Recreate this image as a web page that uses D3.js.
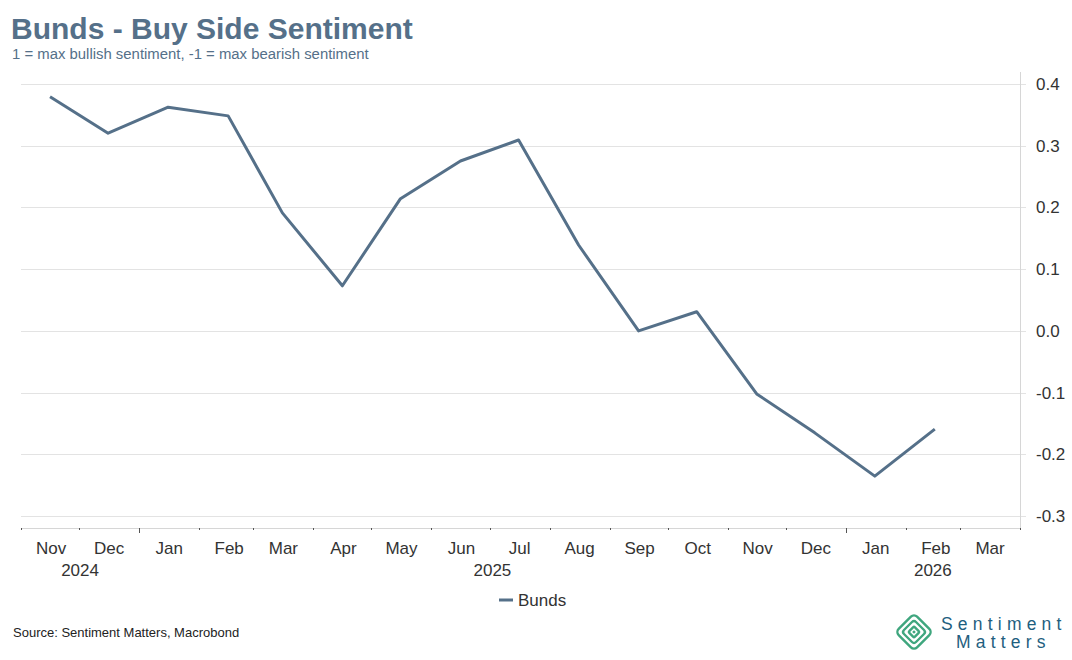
<!DOCTYPE html>
<html lang="en">
<head>
<meta charset="UTF-8">
<title>Bunds - Buy Side Sentiment</title>
<script src="https://d3js.org/d3.v7.min.js"></script>
<style>
  body { margin: 0; background: #fff; font-family: Arial, "Liberation Sans", sans-serif; }
  svg text { font-family: Arial, "Liberation Sans", sans-serif; }
</style>
</head>
<body>
<svg id="chart" width="1072" height="660"></svg>
<script>
// data (mid-month readings)
const months = ["2024-11", "2024-12", "2025-01", "2025-02", "2025-03", "2025-04", "2025-05", "2025-06",
                "2025-07", "2025-08", "2025-09", "2025-10", "2025-11", "2025-12", "2026-01", "2026-02"];
const bunds = [0.379, 0.320, 0.362, 0.348, 0.191, 0.073, 0.214, 0.275,
               0.309, 0.139, 0.000, 0.031, -0.102, -0.165, -0.235, -0.159];
const yTicks = [0.4, 0.3, 0.2, 0.1, 0.0, -0.1, -0.2, -0.3];
const yearLabels = ["2024", "2025", "2026"];

const parse = d3.timeParse("%Y-%m");
const series = months.map((m, i) => {
  const d = parse(m);
  return { date: new Date(d.getFullYear(), d.getMonth(), 16), value: bunds[i] };
});

const svg = d3.select("#chart");
const plotLeft = 21, plotRight = 1020, plotTop = 72, plotBottom = 528;
const lineColor = "#557089";
const textColor = "#333";

const x = d3.scaleTime()
  .domain([new Date(2024, 10, 1), new Date(2026, 3, 1)])
  .range([plotLeft, plotRight]);
const y = d3.scaleLinear()
  .domain([-0.319, 0.419])
  .range([plotBottom, plotTop]);

// title
svg.append("text").attr("x", 11).attr("y", 39)
  .attr("font-size", 30).attr("font-weight", "bold").attr("fill", lineColor)
  .text("Bunds - Buy Side Sentiment");
svg.append("text").attr("x", 12).attr("y", 59)
  .attr("font-size", 14.9).attr("fill", lineColor)
  .text("1 = max bullish sentiment, -1 = max bearish sentiment");

// gridlines
svg.append("g").selectAll("line").data(yTicks).join("line")
  .attr("x1", plotLeft).attr("x2", plotRight + 6)
  .attr("y1", d => Math.round(y(d)) + 0.5).attr("y2", d => Math.round(y(d)) + 0.5)
  .attr("stroke", "#e3e3e3").attr("stroke-width", 1);

// right axis
svg.append("line").attr("x1", plotRight + 0.5).attr("x2", plotRight + 0.5)
  .attr("y1", plotTop).attr("y2", plotBottom).attr("stroke", "#d6d6d6");
svg.append("g").selectAll("text").data(yTicks).join("text")
  .attr("x", 1036).attr("y", d => y(d) + 6)
  .attr("font-size", 17).attr("fill", textColor)
  .text(d => d3.format(".1f")(d).replace("−", "-"));

// x axis
svg.append("line").attr("x1", plotLeft).attr("x2", plotRight)
  .attr("y1", plotBottom + 0.5).attr("y2", plotBottom + 0.5).attr("stroke", "#d6d6d6");
const monthTicks = d3.timeMonth.range(new Date(2024, 10, 1), new Date(2026, 3, 2));
svg.append("g").selectAll("line").data(monthTicks).join("line")
  .attr("x1", d => Math.round(x(d)) + 0.5).attr("x2", d => Math.round(x(d)) + 0.5)
  .attr("y1", plotBottom).attr("y2", d => plotBottom + (d.getMonth() === 0 ? 5 : 2))
  .attr("stroke", "#555").attr("stroke-width", 1);
const monthMids = d3.timeMonth.range(new Date(2024, 10, 1), new Date(2026, 3, 1))
  .map(d => new Date(d.getFullYear(), d.getMonth(), 16));
svg.append("g").selectAll("text").data(monthMids).join("text")
  .attr("x", d => x(d) + 1).attr("y", 554)
  .attr("text-anchor", "middle").attr("font-size", 17).attr("fill", textColor)
  .text(d3.timeFormat("%b"));

const yearSpans = [
  [new Date(2024, 10, 1), new Date(2025, 0, 1)],
  [new Date(2025, 0, 1), new Date(2026, 0, 1)],
  [new Date(2026, 0, 1), new Date(2026, 3, 1)]
];
svg.append("g").selectAll("text").data(yearSpans).join("text")
  .attr("x", d => (x(d[0]) + x(d[1])) / 2)
  .attr("y", 576)
  .attr("text-anchor", "middle").attr("font-size", 17).attr("fill", textColor)
  .text((d, i) => yearLabels[i]);

// line
svg.append("path").datum(series)
  .attr("fill", "none").attr("stroke", lineColor).attr("stroke-width", 3)
  .attr("stroke-linejoin", "round")
  .attr("d", d3.line().x(d => x(d.date)).y(d => y(d.value)));

// legend
svg.append("line").attr("x1", 499).attr("x2", 513).attr("y1", 600).attr("y2", 600)
  .attr("stroke", lineColor).attr("stroke-width", 3);
svg.append("text").attr("x", 518).attr("y", 606)
  .attr("font-size", 17).attr("fill", textColor).text("Bunds");

// source
svg.append("text").attr("x", 13).attr("y", 637)
  .attr("font-size", 13).attr("fill", "#222")
  .text("Source: Sentiment Matters, Macrobond");

// logo
const logo = svg.append("g").attr("transform", "translate(914,632) rotate(45)");
[13, 8.5, 4].forEach(s => {
  logo.append("rect").attr("x", -s).attr("y", -s).attr("width", 2 * s).attr("height", 2 * s)
    .attr("rx", s / 3).attr("fill", "none").attr("stroke", "#3fa67e").attr("stroke-width", 2.4);
});
logo.append("rect").attr("x", -1.3).attr("y", -1.3).attr("width", 2.6).attr("height", 2.6)
  .attr("fill", "#3fa67e");
svg.append("text").attr("x", 941).attr("y", 630)
  .attr("font-size", 17.5).attr("letter-spacing", 5.2).attr("fill", "#1f5f7f")
  .text("Sentiment");
svg.append("text").attr("x", 956).attr("y", 648)
  .attr("font-size", 17.5).attr("letter-spacing", 5.2).attr("fill", "#1f5f7f")
  .text("Matters");
</script>
</body>
</html>
